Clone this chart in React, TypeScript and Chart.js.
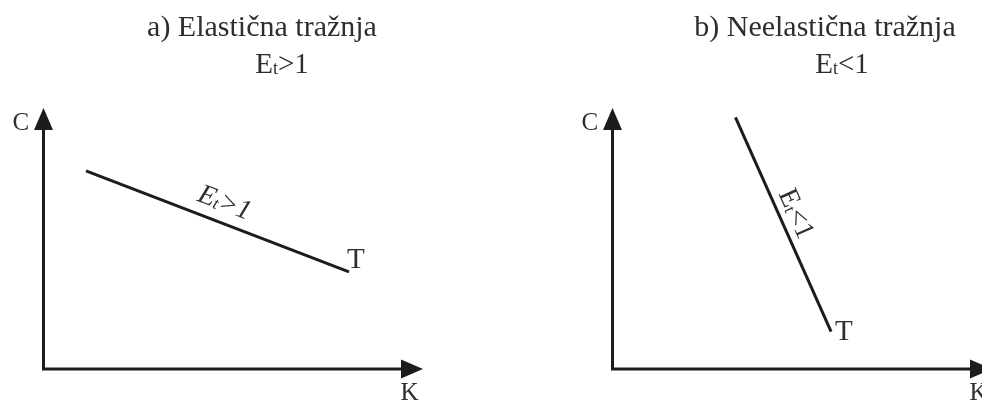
import React, { useEffect, useRef } from 'react';
import { Chart, registerables } from 'chart.js';

Chart.register(...registerables);

// ---------------- data ----------------
const panelTitles = ['a) Elastična tražnja', 'b) Neelastična tražnja'];
const elasticitySymbol = 'E';
const elasticitySubscript = 't';
const elasticityRelations = ['>1', '<1'];
const axisLabelX = 'K';
const axisLabelY = 'C';
const curveLabel = 'T';
const axisRange = [0, 10];
// demand line T, elastic case (K, C)
const elasticK = [1.12, 8.05];
const elasticC = [7.59, 3.72];
// demand line T, inelastic case (K, C)
const inelasticK = [3.24, 5.76];
const inelasticC = [9.64, 1.43];

const curvesK = [elasticK, inelasticK];
const curvesC = [elasticC, inelasticC];

// ---------------- styling / layout ----------------
const FONT = "'Liberation Serif', 'Times New Roman', serif";
const INK = '#1c1c1c';
const TEXT = '#2e2e2e';
const CANVAS_W = 569;
const CANVAS_H = 401;

const panelLayouts = [
  { left: 0, titleX: 262, subtitleX: 282, labelFrac: 0.5, labelOffset: 12, labelItalic: true, endDx: -2, endDy: -4 },
  { left: 569, titleX: 256, subtitleX: 273, labelFrac: 0.48, labelOffset: 8, labelItalic: false, endDx: 4, endDy: 8 },
];

function drawRich(
  ctx: CanvasRenderingContext2D,
  x: number,
  y: number,
  main: string,
  sub: string,
  rest: string,
  size: number,
  italic: boolean
) {
  const st = italic ? 'italic ' : '';
  const big = `${st}${size}px ${FONT}`;
  const small = `${st}${Math.round(size * 0.62)}px ${FONT}`;
  ctx.font = big;
  const w1 = ctx.measureText(main).width;
  const w3 = ctx.measureText(rest).width;
  ctx.font = small;
  const w2 = ctx.measureText(sub).width;
  let cx = x - (w1 + w2 + w3) / 2;
  ctx.textAlign = 'left';
  ctx.textBaseline = 'alphabetic';
  ctx.font = big;
  ctx.fillText(main, cx, y);
  cx += w1;
  ctx.font = small;
  ctx.fillText(sub, cx, y + size * 0.04);
  cx += w2;
  ctx.font = big;
  ctx.fillText(rest, cx, y);
}

const diagramPlugin = {
  id: 'diagram',
  afterDatasetsDraw(chart: any, _args: any, opts: any) {
    const { ctx, scales } = chart;
    const xs = scales.x;
    const ys = scales.y;
    const x0 = xs.getPixelForValue(axisRange[0]);
    const y0 = ys.getPixelForValue(axisRange[0]);
    const xTip = xs.getPixelForValue(axisRange[1]);
    const yTip = ys.getPixelForValue(axisRange[1]);
    const AL = 22; // arrow length
    const AW = 9.5; // arrow half width

    ctx.save();
    // axes
    ctx.strokeStyle = INK;
    ctx.lineWidth = 3;
    ctx.lineJoin = 'miter';
    ctx.lineCap = 'butt';
    ctx.beginPath();
    ctx.moveTo(x0, yTip + AL - 2);
    ctx.lineTo(x0, y0);
    ctx.lineTo(xTip - AL + 2, y0);
    ctx.stroke();

    // arrowheads
    ctx.fillStyle = INK;
    ctx.beginPath();
    ctx.moveTo(x0, yTip);
    ctx.lineTo(x0 + AW, yTip + AL);
    ctx.lineTo(x0 - AW, yTip + AL);
    ctx.closePath();
    ctx.fill();
    ctx.beginPath();
    ctx.moveTo(xTip, y0);
    ctx.lineTo(xTip - AL, y0 - AW);
    ctx.lineTo(xTip - AL, y0 + AW);
    ctx.closePath();
    ctx.fill();

    // axis labels
    ctx.fillStyle = TEXT;
    ctx.textAlign = 'left';
    ctx.textBaseline = 'alphabetic';
    ctx.font = `25px ${FONT}`;
    ctx.fillText(axisLabelY, x0 - 31, yTip + 22);
    ctx.fillText(axisLabelX, x0 + 357, y0 + 31);

    // titles
    ctx.font = `30px ${FONT}`;
    ctx.textAlign = 'center';
    ctx.fillText(opts.title, opts.titleX, 36);
    drawRich(ctx, opts.subtitleX, 73, elasticitySymbol, elasticitySubscript, opts.relation, 29, false);

    // curve labels
    const meta = chart.getDatasetMeta(0);
    const p1 = meta.data[0];
    const p2 = meta.data[meta.data.length - 1];
    ctx.textAlign = 'left';
    ctx.font = `29px ${FONT}`;
    ctx.fillText(curveLabel, p2.x + opts.endDx, p2.y + opts.endDy);

    const ang = Math.atan2(p2.y - p1.y, p2.x - p1.x);
    const mx = p1.x + (p2.x - p1.x) * opts.labelFrac + Math.sin(ang) * opts.labelOffset;
    const my = p1.y + (p2.y - p1.y) * opts.labelFrac - Math.cos(ang) * opts.labelOffset;
    ctx.save();
    ctx.translate(mx, my);
    ctx.rotate(ang);
    drawRich(ctx, 0, 0, elasticitySymbol, elasticitySubscript, opts.relation, 28, opts.labelItalic);
    ctx.restore();

    ctx.restore();
  },
};

function Panel({ index }: { index: number }) {
  const ref = useRef<HTMLCanvasElement | null>(null);
  useEffect(() => {
    if (!ref.current) return;
    const lay = panelLayouts[index];
    const kk = curvesK[index];
    const cc = curvesC[index];
    const chart = new Chart(ref.current, {
      type: 'scatter',
      data: {
        datasets: [
          {
            data: kk.map((k, i) => ({ x: k, y: cc[i] })),
            showLine: true,
            borderColor: INK,
            borderWidth: 3,
            pointRadius: 0,
            pointHoverRadius: 0,
            clip: false as any,
          },
        ],
      },
      options: {
        responsive: false,
        animation: false,
        events: [],
        layout: { padding: { left: 43.5, right: 146, top: 108, bottom: 32 } },
        scales: {
          x: { type: 'linear', min: axisRange[0], max: axisRange[1], display: false },
          y: { type: 'linear', min: axisRange[0], max: axisRange[1], display: false },
        },
        plugins: {
          legend: { display: false },
          tooltip: { enabled: false },
          diagram: {
            title: panelTitles[index],
            relation: elasticityRelations[index],
            titleX: lay.titleX,
            subtitleX: lay.subtitleX,
            labelFrac: lay.labelFrac,
            labelOffset: lay.labelOffset,
            labelItalic: lay.labelItalic,
            endDx: lay.endDx,
            endDy: lay.endDy,
          },
        } as any,
      },
      plugins: [diagramPlugin],
    });
    return () => chart.destroy();
  }, [index]);
  return (
    <canvas
      ref={ref}
      width={CANVAS_W}
      height={CANVAS_H}
      style={{ position: 'absolute', left: panelLayouts[index].left, top: 0, width: CANVAS_W, height: CANVAS_H }}
    />
  );
}

export default function App() {
  useEffect(() => {
    document.body.style.margin = '0';
    document.body.style.overflow = 'hidden';
  }, []);
  return (
    <div style={{ position: 'relative', width: 982, height: 401, overflow: 'hidden', background: '#fff' }}>
      <Panel index={0} />
      <Panel index={1} />
    </div>
  );
}
